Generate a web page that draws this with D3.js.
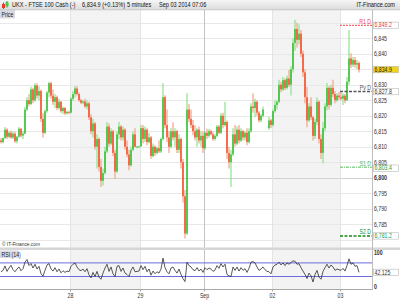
<!DOCTYPE html>
<html>
<head>
<meta charset="utf-8">
<script src="https://cdn.jsdelivr.net/npm/d3@7"></script>
<style>
body { margin: 0; background: #fff; }
text { font-family: "Liberation Sans", Arial, sans-serif; }
</style>
</head>
<body>
<script>
// 5 minute bars (two chart pixels per bar)
var opens = [
6812.0,6811.5,6812.8,6815.5,6813.2,6814.5,6813.0,6814.2,6811.8,6813.2,
6815.8,6813.6,6814.2,6822.0,6825.0,6823.8,6828.5,6825.0,6829.8,6826.5,
6828.0,6819.0,6814.5,6821.5,6827.5,6830.5,6826.5,6824.5,6826.0,6822.5,
6824.5,6821.5,6822.5,6820.8,6821.2,
6821.0,6825.5,6827.0,6828.8,6827.0,6825.0,6824.2,6824.6,6823.0,6824.0,
6819.5,6815.0,6817.5,6810.0,6812.5,6803.5,6799.0,6801.5,6808.5,6816.5,
6811.0,6815.0,6808.0,6802.0,6814.0,6816.5,6813.0,6815.5,6810.0,6807.5,
6804.0,6809.0,6814.0,6810.0,6810.0,
6810.1,6816.0,6812.5,6815.5,6811.5,6813.0,6807.0,6810.0,6808.0,6809.5,
6808.5,6812.5,6826.0,6817.0,6813.0,6810.0,6815.0,6813.0,6815.0,6809.0,
6812.5,6805.0,6794.0,6782.0,6822.0,6819.0,6817.0,6815.0,6813.0,6815.5,
6812.0,6813.5,
6809.5,6814.5,6813.5,6815.0,6814.0,6812.5,6813.5,6816.5,6814.5,6820.0,
6817.0,6818.0,6808.0,6805.0,6807.5,6814.0,6811.0,6815.5,6812.0,6815.0,
6813.0,6814.5,6811.5,6815.0,6823.0,6822.5,6824.5,6821.0,6818.5,6820.0,
null,null,6816.0,6818.5,
6817.0,6821.5,6823.5,6824.5,6830.0,6828.5,6831.5,6829.0,6832.0,6830.0,
6835.0,6843.5,6848.0,6844.5,6846.5,6840.0,6834.0,6826.0,6818.5,6823.0,
6819.5,6813.5,6818.0,6824.5,6812.5,6808.0,6816.0,6823.0,6829.0,6823.5,
6829.0,6827.0,6825.0,6826.5,
6826.0,6825.5,6826.5,6825.0,6831.0,6838.5,6836.5,6838.0,6836.5,6837.0];

var highs = [
6812.8,6813.0,6816.4,6816.0,6815.0,6815.2,6815.0,6814.8,6813.5,6816.4,
6816.0,6815.0,6822.8,6826.0,6827.0,6829.4,6829.0,6830.5,6830.5,6829.5,
6828.5,6820.8,6822.0,6828.0,6831.0,6831.0,6828.5,6827.0,6826.5,6825.5,
6824.8,6823.0,6822.8,6821.6,6821.6,
6826.0,6828.0,6829.6,6829.5,6827.5,6825.5,6825.0,6825.5,6825.0,6824.5,
6820.5,6819.0,6818.0,6814.0,6813.0,6806.0,6803.0,6810.0,6818.0,6817.5,
6816.0,6815.5,6809.0,6815.0,6818.0,6817.0,6816.5,6816.0,6812.0,6809.0,
6810.0,6815.0,6816.0,6810.3,6810.3,
6817.0,6817.0,6816.5,6816.0,6814.5,6813.5,6811.0,6810.5,6810.0,6812.0,
6813.0,6830.5,6826.6,6822.0,6815.0,6816.0,6817.9,6816.0,6815.5,6814.0,
6813.0,6806.0,6796.0,6827.3,6823.8,6822.0,6818.6,6816.9,6816.0,6816.5,
6815.0,6815.0,
6815.0,6815.8,6815.8,6815.5,6814.8,6814.0,6817.0,6817.0,6820.9,6821.0,
6824.5,6818.5,6810.0,6809.0,6816.0,6817.0,6816.5,6817.0,6816.0,6815.5,
6815.0,6816.0,6816.0,6824.0,6827.3,6825.5,6825.0,6821.5,6820.6,6823.0,
null,null,6819.6,6819.0,
6822.0,6825.0,6825.0,6831.6,6831.0,6832.5,6832.0,6833.0,6834.8,6836.0,
6845.0,6851.0,6850.0,6849.5,6847.7,6841.0,6835.0,6829.3,6824.0,6826.0,
6820.0,6819.0,6826.0,6825.0,6814.0,6818.0,6824.0,6830.6,6829.5,6830.0,
6831.6,6828.0,6827.3,6827.7,
6827.5,6827.3,6827.0,6832.5,6847.7,6840.2,6839.0,6839.0,6838.0,6837.5];

var lows = [
6811.0,6811.0,6812.5,6812.5,6812.8,6812.6,6812.5,6811.2,6811.0,6813.0,
6813.0,6812.5,6814.0,6821.5,6823.0,6823.5,6824.0,6824.5,6825.5,6825.0,
6818.0,6813.0,6814.0,6821.0,6826.0,6825.5,6823.5,6822.5,6821.8,6822.0,
6821.0,6820.5,6820.2,6820.4,6820.5,
6820.8,6824.8,6826.0,6826.5,6824.5,6823.8,6823.7,6822.5,6822.0,6818.6,
6814.0,6813.0,6809.0,6803.0,6802.0,6797.0,6797.5,6801.0,6808.0,6810.0,
6810.5,6807.0,6799.7,6801.5,6812.5,6812.0,6812.0,6809.0,6806.6,6802.4,
6803.5,6808.5,6809.8,6809.5,6809.6,
6810.0,6811.0,6811.5,6810.5,6811.0,6806.0,6806.5,6807.0,6807.5,6808.0,
6808.0,6812.0,6816.0,6811.5,6808.0,6809.5,6812.0,6810.0,6808.0,6808.0,
6803.0,6792.0,6780.4,6781.5,6817.9,6816.0,6813.7,6812.0,6810.0,6811.0,
6810.0,6808.0,
6809.0,6812.5,6813.0,6813.7,6811.9,6812.0,6813.0,6814.0,6814.0,6816.0,
6816.5,6806.0,6803.0,6797.0,6807.0,6810.0,6810.5,6811.0,6811.5,6812.0,
6812.0,6810.5,6811.0,6814.5,6821.0,6819.5,6820.0,6817.8,6818.0,6819.5,
null,null,6815.4,6816.0,
6816.5,6821.0,6822.0,6824.0,6827.6,6828.0,6828.3,6828.5,6829.3,6826.5,
6834.0,6841.0,6842.0,6843.0,6839.0,6832.5,6824.0,6816.3,6818.0,6818.6,
6812.0,6812.5,6817.0,6811.0,6806.0,6804.6,6815.0,6821.8,6822.0,6823.0,
6826.0,6824.0,6824.5,6825.0,
6825.0,6823.5,6824.0,6824.8,6830.0,6835.4,6835.7,6835.5,6835.0,6834.0];

var closes = [
6811.5,6812.8,6815.5,6813.2,6814.5,6813.0,6814.2,6811.8,6813.2,6815.8,
6813.6,6814.2,6822.0,6825.0,6823.8,6828.5,6825.0,6829.8,6826.5,6828.0,
6819.0,6814.5,6821.5,6827.5,6830.5,6826.5,6824.5,6826.0,6822.5,6824.5,
6821.5,6822.5,6820.8,6821.2,6821.0,
6825.5,6827.0,6828.8,6827.0,6825.0,6824.2,6824.6,6823.0,6824.0,6819.5,
6815.0,6817.5,6810.0,6812.5,6803.5,6799.0,6801.5,6808.5,6816.5,6811.0,
6815.0,6808.0,6802.0,6814.0,6816.5,6813.0,6815.5,6810.0,6807.5,6804.0,
6809.0,6814.0,6810.0,6810.0,6810.1,
6816.0,6812.5,6815.5,6811.5,6813.0,6807.0,6810.0,6808.0,6809.5,6808.5,
6812.5,6826.0,6817.0,6813.0,6810.0,6815.0,6813.0,6815.0,6809.0,6812.5,
6805.0,6794.0,6782.0,6822.0,6819.0,6817.0,6815.0,6813.0,6815.5,6812.0,
6813.5,6809.5,
6814.5,6813.5,6815.0,6814.0,6812.5,6813.5,6816.5,6814.5,6820.0,6817.0,
6818.0,6808.0,6805.0,6807.5,6814.0,6811.0,6815.5,6812.0,6815.0,6813.0,
6814.5,6811.5,6815.0,6823.0,6822.5,6824.5,6821.0,6818.5,6820.0,6822.0,
null,null,6818.5,6817.0,
6821.5,6823.5,6824.5,6830.0,6828.5,6831.5,6829.0,6832.0,6830.0,6835.0,
6843.5,6848.0,6844.5,6846.5,6840.0,6834.0,6826.0,6818.5,6823.0,6819.5,
6813.5,6818.0,6824.5,6812.5,6808.0,6816.0,6823.0,6829.0,6823.5,6829.0,
6827.0,6825.0,6826.5,6826.0,
6825.5,6826.5,6825.0,6831.0,6838.5,6836.5,6838.0,6836.5,6837.0,6834.9];

var rsi = [
44,48,61,45,55,63,50,44,52,58,
47,53,72,80,62,68,55,66,52,60,
38,31,48,64,68,52,46,56,44,52,
41,47,42,46,44,
60,66,70,58,50,47,52,44,53,35,
26,42,30,45,28,22,40,55,66,45,
58,38,30,60,62,45,55,40,36,30,
48,58,44,45,46,
62,50,60,44,52,34,46,38,44,40,
52,84,56,44,38,55,58,48,40,52,
36,24,15,72,62,58,50,47,56,46,
52,42,
56,50,55,52,45,49,62,54,68,58,
66,36,32,30,58,48,58,46,56,48,
53,42,54,72,74,70,58,48,52,58,
50,45,44,38,
58,64,66,72,64,70,62,70,66,71,
76,75,66,68,56,46,36,24,40,32,
14,36,48,28,22,45,56,66,55,64,
58,48,52,50,
48,54,46,62,82,66,70,60,62,42.125];

var dayLabels = ["28", "29", "Sep", "02", "03"];
var dayStarts = [35, 70, 102, 136, 170];
var shadedDays = [[35, 70], [136, 170]];
var gridTicks = [6780, 6785, 6790, 6795, 6800, 6805, 6810, 6815, 6820, 6825, 6830, 6835, 6840, 6845, 6850];
var priceTicks = [6785, 6790, 6795, 6800, 6805, 6810, 6815, 6820, 6825, 6830, 6840, 6845];
var rsiTicks = [0, 100];
var rsiBands = [30, 70];
var levelNames = ["R1 D", "Pv D", "S1 D", "S2 D"];
var levelValues = [6849.2, 6827.8, 6803.4, 6781.2];
var lastPrice = 6834.9;
var lastRsi = 42.125;
var levelStart = 170;

var W = 400, H = 300, plotR = 372;
var fmt = d3.format(",.1f");

var svg = d3.select("body").append("svg")
  .attr("width", W)
  .attr("height", H)
  .style("display", "block");

var x = d3.scaleLinear().domain([0, 186]).range([0, plotR]);
var y = d3.scaleLinear().domain([6800, 6845]).range([177.7, 38.3]);
var yr = d3.scaleLinear().domain([0, 100]).range([286.7, 252.7]);

// squeezed text, the original font is narrow
function txt(g, tx, ty, s, size, color, anchor, weight) {
  return g.append("text")
    .attr("transform", "translate(" + tx + "," + ty + ") scale(0.8,1)")
    .attr("text-anchor", anchor || "start")
    .attr("font-size", size)
    .attr("font-weight", weight || "normal")
    .attr("fill", color)
    .text(s);
}

var defs = svg.append("defs");
var grad = defs.append("linearGradient").attr("id", "hdr").attr("x1", 0).attr("y1", 0).attr("x2", 0).attr("y2", 1);
grad.append("stop").attr("offset", "0%").attr("stop-color", "#f6f6f6");
grad.append("stop").attr("offset", "100%").attr("stop-color", "#dcdcdc");
defs.append("clipPath").attr("id", "mainClip").append("rect")
  .attr("x", 0).attr("y", 10).attr("width", plotR).attr("height", 238);

// shaded days
svg.append("g").selectAll("rect")
  .data(shadedDays)
  .enter().append("rect")
  .attr("x", d => x(d[0]))
  .attr("width", d => x(d[1]) - x(d[0]))
  .attr("y", 10)
  .attr("height", 279.5)
  .attr("fill", "#f3f3f3");

// grid
svg.append("g").selectAll("line")
  .data(gridTicks)
  .enter().append("line")
  .attr("x1", 0).attr("x2", plotR)
  .attr("y1", d => Math.round(y(d)) + 0.5)
  .attr("y2", d => Math.round(y(d)) + 0.5)
  .attr("stroke", d => d % 100 == 0 ? "#d2d2d2" : "#e8e8e8");

svg.append("g").selectAll("line")
  .data(dayStarts)
  .enter().append("line")
  .attr("x1", d => Math.round(x(d)) + 0.5)
  .attr("x2", d => Math.round(x(d)) + 0.5)
  .attr("y1", 10).attr("y2", 289.5)
  .attr("stroke", (d, i) => dayLabels[i] == "Sep" ? "#c4c4c4" : "#e4e4e4");

// candles
var bars = d3.range(opens.length)
  .filter(i => opens[i] != null)
  .map(i => ({i: i, o: opens[i], h: highs[i], l: lows[i], c: closes[i]}));

var candles = svg.append("g").attr("clip-path", "url(#mainClip)");

candles.selectAll("line")
  .data(bars)
  .enter().append("line")
  .attr("x1", d => x(d.i + 0.5))
  .attr("x2", d => x(d.i + 0.5))
  .attr("y1", d => y(d.h))
  .attr("y2", d => y(d.l))
  .attr("stroke", d => d.c >= d.o ? "#80e080" : "#f4987f")
  .attr("stroke-width", 1.1);

candles.selectAll("rect")
  .data(bars)
  .enter().append("rect")
  .attr("x", d => x(d.i + 0.5) - 0.65)
  .attr("width", 1.3)
  .attr("y", d => y(Math.max(d.o, d.c)))
  .attr("height", d => Math.max(0.8, Math.abs(y(d.o) - y(d.c))))
  .attr("fill", d => d.c >= d.o ? "#0fb40f" : "#f42c00")
  .attr("opacity", 0.9);

// daily levels
var levelColor = ["#f04848", "#555555", "#5cb85c", "#168a16"];
var levelDash = ["2,1", "3,1.5", "3,1,1,1", "3,1.5"];
var levelWidth = [1, 1.5, 1, 1.5];
var lv = svg.append("g");
levelValues.forEach(function(v, i) {
  lv.append("line")
    .attr("x1", x(levelStart)).attr("x2", plotR)
    .attr("y1", y(v)).attr("y2", y(v))
    .attr("stroke", levelColor[i])
    .attr("stroke-width", levelWidth[i])
    .attr("stroke-dasharray", levelDash[i]);
  txt(lv, plotR - 1, y(v) - 1.5, levelNames[i], 6.5, levelColor[i], "end");
});

// panel texts
svg.append("rect").attr("x", 0).attr("y", 10).attr("width", 15).attr("height", 8.5).attr("fill", "#dadae4");
txt(svg, 1.5, 16.8, "Price", 6.5, "#222");
txt(svg, 2, 246, "\u00a9 IT-Finance.com", 6, "#333");

// separator between panels
svg.append("rect").attr("x", 0).attr("y", 247.5).attr("width", W).attr("height", 2.5).attr("fill", "#d6d6d6");

// RSI panel
svg.append("g").selectAll("line")
  .data(rsiBands)
  .enter().append("line")
  .attr("x1", 0).attr("x2", plotR)
  .attr("y1", d => yr(d)).attr("y2", d => yr(d))
  .attr("stroke", "#6b6be0")
  .attr("stroke-width", 1);

var line = d3.line()
  .x((d, i) => x(i + 0.5))
  .y(d => yr(d));

svg.append("path")
  .datum(rsi)
  .attr("d", line)
  .attr("fill", "none")
  .attr("stroke", "#222")
  .attr("stroke-width", 0.75);

svg.append("rect").attr("x", 0).attr("y", 250.5).attr("width", 19).attr("height", 7.5).attr("fill", "#dadae4");
txt(svg, 1.5, 256.5, "RSI (14)", 6.5, "#222");

// right border
svg.append("line")
  .attr("x1", plotR + 0.5).attr("x2", plotR + 0.5)
  .attr("y1", 10).attr("y2", 290)
  .attr("stroke", "#bdbdbd");

// price axis
var yAxis = svg.append("g")
  .attr("transform", "translate(" + plotR + ",0)")
  .call(d3.axisRight(y).tickValues(priceTicks).tickSize(0).tickPadding(2.5).tickFormat(d3.format(",")));
yAxis.select(".domain").remove();
yAxis.selectAll("text")
  .attr("transform", "scale(0.8,1)")
  .attr("font-size", 6.5)
  .attr("font-family", "Liberation Sans, Arial, sans-serif")
  .attr("fill", "#333")
  .attr("font-weight", d => d % 100 == 0 ? "bold" : "normal");

var rAxis = svg.append("g")
  .attr("transform", "translate(" + plotR + ",0)")
  .call(d3.axisRight(yr).tickValues(rsiTicks).tickSize(0).tickPadding(2.5));
rAxis.select(".domain").remove();
rAxis.selectAll("text")
  .attr("transform", "scale(0.8,1)")
  .attr("font-size", 6.5)
  .attr("font-family", "Liberation Sans, Arial, sans-serif")
  .attr("fill", "#333")
  .attr("font-weight", "bold");

// value boxes on the axis
function valueBox(v, scale, s, color, bg, shift) {
  var cy = scale(v) + (shift || 0);
  var g = svg.append("g");
  g.append("rect")
    .attr("x", plotR + 1.5).attr("y", cy - 3.2)
    .attr("width", 25).attr("height", 6.4)
    .attr("fill", bg)
    .attr("stroke", "#b8b8b8")
    .attr("stroke-width", 0.6);
  txt(g, plotR + 2.5, cy + 2.2, s, 6.5, color);
}
valueBox(levelValues[0], y, fmt(levelValues[0]), "#e83c3c", "#fff");
valueBox(levelValues[1], y, fmt(levelValues[1]), "#333", "#fff");
valueBox(levelValues[2], y, fmt(levelValues[2]), "#2e9a2e", "#fff", 1);
valueBox(levelValues[3], y, fmt(levelValues[3]), "#2e9a2e", "#fff");
valueBox(lastPrice, y, fmt(lastPrice), "#222", "#f3d21b");
valueBox(lastRsi, yr, d3.format(".3f")(lastRsi), "#333", "#fff");

// time axis
var xAxis = svg.append("g")
  .attr("transform", "translate(0,289.5)")
  .call(d3.axisBottom(x).tickValues(dayStarts).tickSize(2).tickPadding(1.5).tickFormat((d, i) => dayLabels[i]));
xAxis.select(".domain").attr("stroke", "#a8a8a8").attr("d", "M0,0H" + plotR);
xAxis.selectAll("line").attr("stroke", "#a8a8a8");
xAxis.selectAll("text")
  .attr("font-size", 6.5)
  .attr("font-family", "Liberation Sans, Arial, sans-serif")
  .attr("fill", "#333")
  .attr("transform", "scale(0.8,1)");

// header bar
svg.append("rect").attr("x", 0).attr("y", 0).attr("width", W).attr("height", 9.5).attr("fill", "url(#hdr)");
svg.append("line").attr("x1", 0).attr("x2", W).attr("y1", 9.75).attr("y2", 9.75).attr("stroke", "#a9a9a9").attr("stroke-width", 0.6);
svg.append("line").attr("x1", 3.5).attr("x2", 3.5).attr("y1", 2.5).attr("y2", 9).attr("stroke", "#c44");
svg.append("rect").attr("x", 2).attr("y", 4).attr("width", 3).attr("height", 4).attr("fill", "#e33");
svg.append("line").attr("x1", 7).attr("x2", 7).attr("y1", 1).attr("y2", 7.5).attr("stroke", "#3a3");
svg.append("rect").attr("x", 5.5).attr("y", 2).attr("width", 3).attr("height", 4.5).attr("fill", "#4c4");
txt(svg, 12, 7.3, "UKX - FTSE 100 Cash (-)", 7, "#111");
txt(svg, 82, 7.3, "6,834.9 (+0.13%)", 7, "#111");
txt(svg, 127, 7.3, "5 minutes", 7, "#111");
txt(svg, 159, 7.3, "Sep 03 2014 07:06", 7, "#111");
txt(svg, 395, 7.3, "IT-Finance.com", 7, "#111", "end");
</script>
</body>
</html>
